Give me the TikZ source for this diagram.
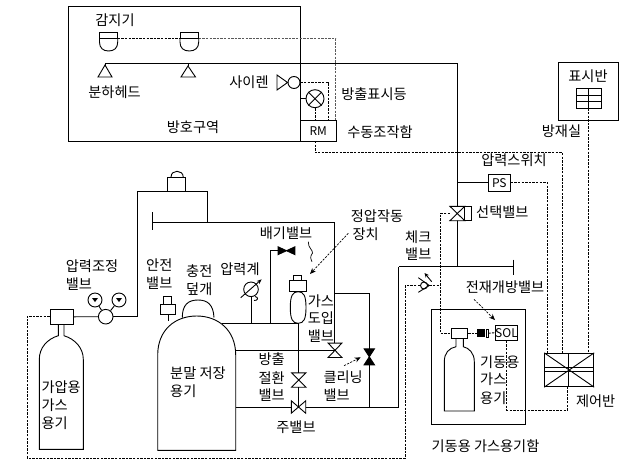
\documentclass[tikz,border=0pt]{standalone}
\usepackage{fontspec}
\setmainfont{Noto Sans CJK KR}
\usetikzlibrary{arrows.meta}

\tikzset{
  pipe/.style={line width=0.9pt},
  signal/.style={line width=0.9pt, dash pattern=on 2.4pt off 1.2pt},
  pointer/.style={line width=0.7pt, dash pattern=on 2.2pt off 1.3pt, -{Stealth[length=6pt,width=5pt]}},
  lbl/.style={inner sep=0pt, font=\fontsize{14.2}{15}\selectfont},
  lblleft/.style={lbl, anchor=west},
  tag/.style={draw, line width=0.9pt, inner sep=0pt, font=\fontsize{12}{12}\selectfont},
  valvebox/.style={minimum width=#1, minimum height=14pt, inner sep=0pt},
  dial/.style={draw, circle, line width=0.9pt, inner sep=0pt, minimum size=#1}
}
\newcommand{\upvalve}[2][]{\draw[pipe,#1] (#2.north west) -- (#2.south east) -- (#2.south west) -- (#2.north east) -- cycle;}
\newcommand{\sidevalve}[2][]{\draw[pipe,#1] (#2.north west) -- (#2.south east) -- (#2.north east) -- (#2.south west) -- cycle;}

\begin{document}
\begin{tikzpicture}[x=1pt,y=-1pt]
\useasboundingbox (0,0) rectangle (628,469);

% protected zone
\draw[pipe] (68,6) rectangle (300,141);
\node[lbl] (zone) at (193,127) {방호구역};
\node[lbl] (detectorlbl) at (115,20) {감지기};
\node[lbl] (nozzlelbl) at (114.5,92) {분하헤드};
\node[lbl] (sirenlbl) at (249,82) {사이렌};
\node[lbl] (lamplbl) at (374,94) {방출표시등};
\node[lbl] (rmlbl) at (380,132) {수동조작함};
\node[lbl] (roomlbl) at (561.5,131) {방재실};
\node[lbl] (paneltxt) at (588,76) {표시반};

% detectors
\coordinate (det1l) at (99.5,38.5);
\coordinate (det1r) at (117.7,38.5);
\coordinate (det2l) at (180,38.5);
\coordinate (det2r) at (198.7,38.5);
\draw[pipe] (99.5,32.5) rectangle (117.7,38.5);
\draw[pipe] (det1l) -- (99.5,42) .. controls (99.5,48) and (103,51) .. (108.6,51) .. controls (114.2,51) and (117.7,48) .. (117.7,42) -- (det1r);
\draw[pipe] (180,32.5) rectangle (198.7,38.5);
\draw[pipe] (det2l) -- (180,42) .. controls (180,48) and (183.6,51) .. (189.3,51) .. controls (195,51) and (198.7,48) .. (198.7,42) -- (det2r);

% nozzles and main line to the room
\coordinate (noz1) at (105,77);
\coordinate (noz2) at (188,77);
\draw[pipe] (105,63) -- (noz1 |- 0,66);
\draw[pipe] (188,63) -- (noz2 |- 0,66);
\draw[pipe] (105,65) -- (112,77) -- (98,77) -- cycle;
\draw[pipe] (188,66) -- (195.5,77) -- (181,77) -- cycle;

% manual box and lamp
\node[tag, minimum width=36.7pt, minimum height=20.5pt] (rm) at (318.3,130.7) {RM};
\node[dial=18pt] (lamp) at (315,98.7) {};
\draw[pipe] (lamp.north east) -- (lamp.south west);
\draw[pipe] (lamp.north west) -- (lamp.south east);
\coordinate (lampin) at (300,98.7);
\draw[pipe] (lampin) -- (lamp.west);
\draw[signal] (lamp.south) -- (lamp.south |- rm.north);

% siren
\node[dial=12pt] (siren) at (294,82.5) {};
\draw[pipe] (siren.west) -- (277,75) -- (277,90) -- cycle;
\coordinate (sirenturn) at (328,82);
\draw[signal] (siren.east |- sirenturn) -- (sirenturn) -- (sirenturn |- rm.north);

% detector wiring
\coordinate (detturn) at (335.5,38.5);
\draw[signal] (det1r) -- (det2l);
\draw[signal, gray!70!black] (det2r) -- (detturn) -- (detturn |- rm.north);

% panel in the control room
\node[draw, line width=0.9pt, minimum width=60.7pt, minimum height=57.3pt] (roombox) at (588.3,91.3) {};
\node[draw, line width=0.9pt, minimum width=25.7pt, minimum height=19.3pt] (display) at (588.8,98.3) {};
\draw[pipe] (display.north) -- (display.south);
\draw[pipe] (576,95) -- (601.7,95);
\draw[pipe] (576,101.2) -- (601.7,101.2);

% control panel
\node[draw, line width=0.9pt, minimum width=49pt, minimum height=33.4pt] (ctrl) at (569.2,370) {};
\draw[pipe] (ctrl.north west) -- (ctrl.south east);
\draw[pipe] (ctrl.north east) -- (ctrl.south west);
\draw[pipe] (ctrl.west |- 0,367.3) -- (ctrl.east |- 0,367.3);
\draw[pipe] (ctrl.west |- 0,371.3) -- (ctrl.east |- 0,371.3);
\draw[pipe] (568.3,353.3) -- (568.3,386.7);
\node[lbl] (ctrllbl) at (595.7,400.7) {제어반};
\draw[signal] (display.south) -- (display.south |- ctrl.north);

% RM to control panel
\coordinate (rmturn) at (315,152.5);
\coordinate (rmturn2) at (562.3,152.5);
\draw[signal] (315,141) -- (rmturn) -- (rmturn2) -- (rmturn2 |- ctrl.north);

% riser with pressure switch and selector valve
\node[tag, minimum width=22pt, minimum height=17pt] (ps) at (499.3,182.8) {PS};
\node[lbl] (pslbl) at (514,160) {압력스위치};
\coordinate (riser) at (457.3,63);
\coordinate (risertee) at (457.3,266.6);
\coordinate (endtick) at (513.7,266.6);
\draw[pipe] (105,63) -- (riser) -- (risertee);
\draw[pipe] (riser |- ps.west) -- (ps.west);
\coordinate (psturn) at (547.5,182.8);
\draw[signal] (ps.east) -- (psturn) -- (psturn |- ctrl.north);
\node[valvebox=14.4pt] (selv) at (457.3,213.5) {};
\upvalve[fill=white]{selv}
\draw[pipe] (selv.north east) rectangle (471.3,220.7);
\node[lblleft] (selvlbl) at (476,211.7) {선택밸브};

% dead end lines
\coordinate (returnpipe) at (398.7,266.6);
\draw[pipe] (returnpipe) -- (endtick);
\draw[pipe] (513.7,259.5) -- (513.7,275);
\coordinate (maintee) at (398.7,407);

% check valve
\node[draw, circle, line width=0.9pt, inner sep=0pt, minimum size=7pt] (chk) at (424,285.5) {};
\draw[pipe] (418.3,277.7) -- (429.3,285.5) -- (418.3,292.3);
\draw[pipe, -{Stealth[length=4.5pt,width=4pt]}] (431.7,281.7) -- (424.5,273);
\node[lbl] (chklbl) at (418.3,236.7) {체크};
\node[lbl] (chklbl2) at (418.3,254) {밸브};
\coordinate (chkdown) at (405.3,285.5);
\coordinate (pilot) at (440.3,285.5);
\coordinate (farleft) at (27.3,316);
\coordinate (farbot) at (27.3,458);
\coordinate (botright) at (405.3,458);
\draw[signal] (chk.west) -- (chkdown) -- (botright) -- (farbot) -- (farleft) -- (50.7,316);
\draw[signal] (429.3,285.5) -- (pilot);

% starter cylinder cabinet
\draw[pipe] (431.3,309.3) rectangle (525.3,424.3);
\node[lbl] (cablbl) at (485.5,445.7) {기동용 가스용기함};
\node[lbl] (sollbl) at (505,287.3) {전재개방밸브};
\draw[pointer] (474,299.3) -- (495,320);
\node[tag, minimum width=22.4pt, minimum height=15.3pt] (sol) at (506.5,332.7) {SOL};
\node[draw, line width=0.9pt, minimum width=16.7pt, minimum height=10pt, inner sep=0pt] (starthead) at (459.3,333.3) {};
\draw[signal] (selv.west) -- (440.3,213.5) -- (440.3,333.3) -- (starthead.west);
\draw[signal] (starthead.east) -- (477,333.3);
\fill (477,329.3) rectangle (484.5,337.3);
\draw[pipe] (486.8,329.3) rectangle (488.3,337.3);
\draw[signal] (488.3,333.3) -- (sol.west);
\draw[pipe] (456,338.3) -- (456,346.7) .. controls (449,348) and (444.3,353) .. (444.3,361.7) -- (444.3,411) -- (474.3,411) -- (474.3,361.7) .. controls (474.3,353) and (469,348) .. (463.3,346.7) -- (463.3,338.3);
\coordinate (solbot) at (506.7,410);
\coordinate (ctrlbot) at (567.7,410);
\draw[signal] (sol.south -| solbot) -- (solbot) -- (ctrlbot) -- (ctrlbot |- ctrl.south);
\node[lblleft] (startlbl) at (480,361.7) {기동용};
\node[lblleft] (startlbl2) at (480,379.3) {가스};
\node[lblleft] (startlbl3) at (480,398.3) {용기};

% driver gas cylinder and regulator
\node[draw, line width=0.9pt, minimum width=22.6pt, minimum height=15pt, inner sep=0pt] (drvhead) at (62,316.8) {};
\draw[pipe] (58.3,324.3) -- (58.3,335.7) .. controls (47,339) and (39.3,348) .. (39.3,359.3) -- (39.3,449.3) -- (83.3,449.3) -- (83.3,359.3) .. controls (83.3,348) and (75,339) .. (64,335.7) -- (64,324.3);
\node[dial=14.6pt] (reg) at (105.7,316.7) {};
\node[dial=14pt] (gauge1) at (95,300) {};
\node[dial=14pt] (gauge2) at (119,300) {};
\draw[pipe] (gauge1) -- (reg);
\draw[pipe] (gauge2) -- (reg);
\fill (92,298) -- (98,298) -- (95,302) -- cycle;
\fill (116,298) -- (122,298) -- (119,302) -- cycle;
\coordinate (supply) at (137.3,316.7);
\coordinate (supplytop) at (137.3,191.3);
\coordinate (supplytee) at (207.3,191.3);
\coordinate (upperline) at (207.3,222.3);
\coordinate (upperend) at (152.3,222.3);
\coordinate (uppercorner) at (334.3,222.3);
\draw[pipe] (drvhead.east) -- (reg.west);
\draw[pipe] (reg.east) -- (supply) -- (supplytop) -- (supplytee) -- (upperline);
\draw[pipe] (upperend) -- (uppercorner);
\draw[pipe] (152.3,212.3) -- (152.3,230);
\node[draw, line width=0.9pt, minimum width=18pt, minimum height=14pt, inner sep=0pt] (upperbox) at (176.7,184.3) {};
\draw[pipe] (171,177.3) .. controls (171,173) and (174,171.3) .. (177,171.3) .. controls (180,171.3) and (183.3,173) .. (183.3,177.3);
\node[lblleft] (reglbl) at (65.7,266) {압력조정};
\node[lblleft] (reglbl2) at (65.7,284) {밸브};
\node[lblleft] (drvlbl) at (41.3,386.7) {가압용};
\node[lblleft] (drvlbl2) at (41.3,405) {가스};
\node[lblleft] (drvlbl3) at (41.3,423.3) {용기};

% powder tank
\draw[pipe] (157.7,355) .. controls (157.7,330) and (175,316) .. (196.7,316) .. controls (218,316) and (235.7,330) .. (235.7,355) -- (235.7,450.3) -- (157.7,450.3) -- cycle;
\draw[pipe] (182.3,317.5) .. controls (182.3,305) and (188,300) .. (198,300) .. controls (208,300) and (213.3,305) .. (214,317.5);
\node[draw, line width=0.9pt, minimum width=14.6pt, minimum height=10.7pt, inner sep=0pt] (safety) at (168,309.3) {};
\draw[pipe] (163.3,304) rectangle (171.7,296.7);
\draw[pipe] (safety.south) -- (168,321);
\node[lblleft] (tanklbl) at (170,372.7) {분말 저장};
\node[lblleft] (tanklbl2) at (170,390.7) {용기};
\node[lblleft] (safelbl) at (146,265) {안전};
\node[lblleft] (safelbl2) at (146,282.7) {밸브};
\node[lblleft] (coverlbl) at (186,270.7) {충전};
\node[lblleft] (coverlbl2) at (186,289.3) {덮개};

% pipes from the tank
\coordinate (mainline) at (221.7,323.3);
\coordinate (mainend) at (298.3,323.3);
\coordinate (ventcorner) at (270.3,250.7);
\coordinate (ventfoot) at (270.3,323.3);
\draw[pipe] (mainline) -- (mainend);
\node[valvebox=14pt] (switchv) at (298.8,380) {};
\upvalve{switchv}
\node[valvebox=14pt, minimum height=12pt] (mainv) at (298.5,407) {};
\sidevalve{mainv}
\draw[pipe] (mainend) -- (mainend |- switchv.north);
\draw[pipe] (mainend |- switchv.south) -- (mainend |- mainv.center);
\coordinate (tankout) at (235.7,407);
\draw[pipe] (tankout) -- (mainv.west);
\draw[pipe] (mainv.east) -- (maintee) -- (returnpipe);
\node[lblleft] (swlbl) at (258.3,359.3) {방출};
\node[lblleft] (swlbl2) at (258.3,378) {절환};
\node[lblleft] (swlbl3) at (258.3,395) {밸브};
\node[lbl] (mainlbl) at (296,427.3) {주밸브};

% vent valve
\node[valvebox=16.4pt, minimum height=7.4pt] (ventv) at (286.5,250.7) {};
\sidevalve[fill=black]{ventv}
\draw[pipe] (ventfoot) -- (ventcorner) -- (ventv.west);
\draw[line width=0.7pt] (308.3,241.7) .. controls (308,248) and (313,250) .. (312.5,253) .. controls (312,256) and (309,255) .. (312,261.7);
\node[lbl] (ventlbl) at (286,233.3) {배기밸브};

% pressure gauge
\node[dial=14.6pt] (pgauge) at (251,289.3) {};
\draw[pipe, -{Stealth[length=5pt,width=4pt]}] (240.7,297.7) -- (261.7,279.3);
\draw[pipe] (255,296.5) .. controls (259,297) and (258,301) .. (254,300.5);
\draw[pipe] (pgauge.south) -- (pgauge.south |- mainline);
\node[lbl] (pglbl) at (240,269.3) {압력계};

% constant pressure device
\node[draw, line width=0.9pt, minimum width=17.4pt, minimum height=11pt, inner sep=0pt] (prbox) at (298,285.8) {};
\draw[pipe] (293.3,280.3) rectangle (301.7,275);
\draw[pipe] (290.3,307.5) .. controls (290.3,296) and (292.5,291.7) .. (298.1,291.7) .. controls (303.8,291.7) and (306,296) .. (306,307.5) .. controls (306,319) and (303.8,323.3) .. (298.1,323.3) .. controls (292.5,323.3) and (290.3,319) .. (290.3,307.5) -- cycle;
\node[lbl] (prlbl) at (377,215.7) {정압작동};
\node[lblleft] (prlbl2) at (352.3,234.3) {장치};
\draw[pointer] (348.3,233.3) -- (310,274);

% gas inlet valve and cleaning valve
\node[valvebox=13.4pt] (gasv) at (335,350.3) {};
\upvalve{gasv}
\coordinate (gasin) at (235.7,350.3);
\draw[pipe] (gasin) -- (gasv.center);
\draw[pipe] (uppercorner) -- (gasv.north -| uppercorner);
\node[lblleft] (gaslbl) at (307.7,300.7) {가스};
\node[lblleft] (gaslbl2) at (307.7,318.3) {도입};
\node[lblleft] (gaslbl3) at (307.7,336) {밸브};
\coordinate (cleantop) at (334.3,293.3);
\coordinate (cleancorner) at (369,293.3);
\coordinate (cleanfoot) at (369,407);
\node[valvebox=10pt, minimum height=15.7pt] (cleanv) at (369.3,356.8) {};
\upvalve[fill=black]{cleanv}
\draw[pipe] (cleantop) -- (cleancorner) -- (cleanv.north -| cleancorner);
\draw[pipe] (cleanv.south -| cleancorner) -- (cleanfoot);
\draw[pointer] (344,365.7) -- (360.7,357.3);
\node[lblleft] (cleanlbl) at (323.3,376.7) {클리닝};
\node[lblleft] (cleanlbl2) at (323.3,395) {밸브};

\end{tikzpicture}
\end{document}
